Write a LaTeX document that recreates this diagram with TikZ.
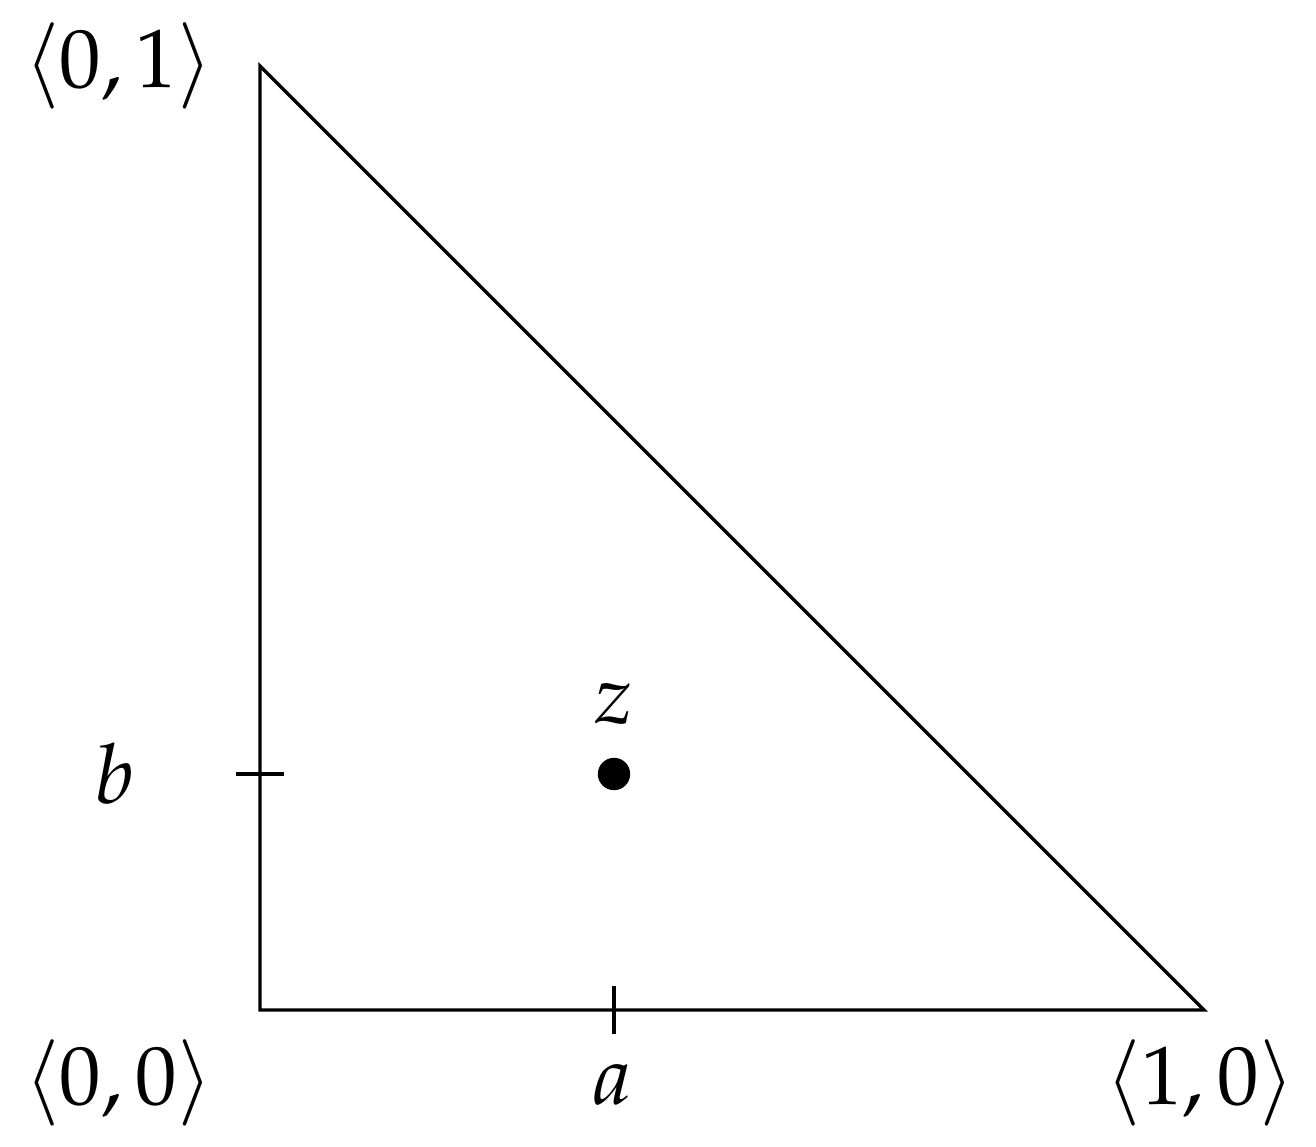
\documentclass[tikz,border=0pt]{standalone}
\usepackage{mathpazo}
\begin{document}
\begin{tikzpicture}
  [scale=4,
   % Styles
   tick line/.style={},
   point/.style={circle,fill,inner sep=0pt,minimum size=3.9pt},
   corner text/.style={anchor=base},
   param text/.style={anchor=base}]

  \useasboundingbox (-0.2754,-0.1441) rectangle (1.1186,1.0699);

  % Corners and parameters
  \coordinate (origin) at (0,0);
  \coordinate (xone) at (1,0);
  \coordinate (yone) at (0,1);
  \coordinate (tick a) at (0.375,0);
  \coordinate (tick b) at (0,0.25);

  % The graphic
  \draw (origin) -- (xone) -- (yone) -- cycle;

  \draw[tick line] (tick a) +(0,0.025) -- +(0,-0.025);
  \draw[tick line] (tick b) +(-0.025,0) -- +(0.025,0);

  \node[point] (z) at (0.375,0.25) {};

  % Labels
  \node[corner text] (label origin) at (-0.150,-0.0996) {$\langle 0,0\rangle$};
  \node[corner text] (label yone) at (-0.150,0.9767) {$\langle 0,1\rangle$};
  \node[corner text] (label xone) at (0.996,-0.0996) {$\langle 1,0\rangle$};
  \node[param text] (label a) at (0.373,-0.0996) {$a$};
  \node[param text] (label b) at (-0.154,0.219) {$b$};
  \node[param text] (label z) at (0.375,0.304) {$z$};
\end{tikzpicture}
\end{document}
